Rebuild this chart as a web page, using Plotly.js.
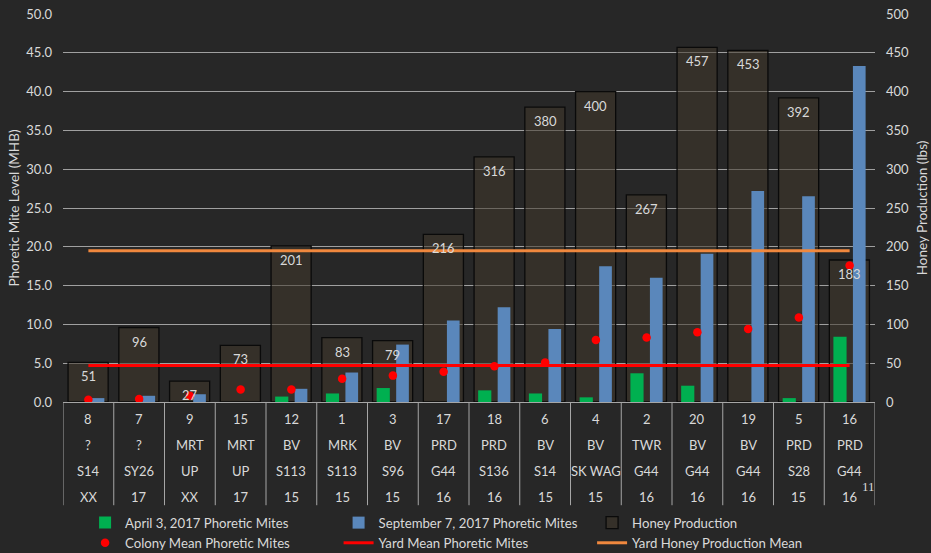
<!DOCTYPE html>
<html>
<head>
<meta charset="utf-8">
<script src="https://cdn.plot.ly/plotly-3.0.1.min.js"></script>
<style>
html,body{margin:0;padding:0;background:#272727;}
#chart{width:931px;height:553px;}
</style>
</head>
<body>
<div id="chart"></div>
<script>
// ---- data ----
var colonyIds   = ['8','7','9','15','12','1','3','17','18','6','4','2','20','19','5','16'];
var yards       = ['?','?','MRT','MRT','BV','MRK','BV','PRD','PRD','BV','BV','TWR','BV','BV','PRD','PRD'];
var stocks      = ['S14','SY26','UP','UP','S113','S113','S96','G44','S136','S14','SK WAG','G44','G44','G44','S28','G44'];
var years       = ['XX','17','XX','17','15','15','15','16','16','15','15','16','16','16','15','16'];
var aprilMites  = [0, 0, 0, 0, 0.7, 1.1, 1.8, 0, 1.5, 1.1, 0.6, 3.7, 2.1, 0, 0.5, 8.4];
var septMites   = [0.5, 0.8, 1.0, 0, 1.7, 3.8, 7.4, 10.5, 12.2, 9.4, 17.5, 16.0, 19.1, 27.2, 26.5, 43.3];
var colonyMean  = [0.3, 0.4, 0.8, 1.6, 1.6, 3.0, 3.4, 3.9, 4.6, 5.1, 8.0, 8.3, 9.0, 9.4, 10.9, 17.6];
var honey       = [51, 96, 27, 73, 201, 83, 79, 216, 316, 380, 400, 267, 457, 453, 392, 183];
var yardMeanMites = 4.7;
var yardMeanHoney = 195;
var miteTicks   = [0,5,10,15,20,25,30,35,40,45,50];
var honeyTicks  = [0,50,100,150,200,250,300,350,400,450,500];

var FONT = 'Lato, "Open Sans", sans-serif';
var TXT = '#d9d9d9';
var first = colonyIds[0], last = colonyIds[colonyIds.length-1];

var traces = [
  {type:'bar', name:'Honey Production', x:colonyIds, y:honey, yaxis:'y',
   width:0.79, offset:-0.4,
   marker:{color:'rgba(66,57,44,0.55)', line:{color:'#0a0a0a', width:1.3}},
   legendrank:3, hoverinfo:'skip'},
  {type:'scatter', mode:'lines', name:'Yard Honey Production Mean', x:[first,last], y:[yardMeanHoney,yardMeanHoney], yaxis:'y3',
   line:{color:'#f0883e', width:3}, legendrank:6},
  {type:'bar', name:'April 3, 2017 Phoretic Mites', x:colonyIds, y:aprilMites, yaxis:'y2',
   width:0.26, offset:-0.32, marker:{color:'#00b050'}, legendrank:1},
  {type:'bar', name:'September 7, 2017 Phoretic Mites', x:colonyIds, y:septMites, yaxis:'y2',
   width:0.25, offset:0.065, marker:{color:'#5a87bb'}, legendrank:2},
  {type:'scatter', mode:'markers', name:'Colony Mean Phoretic Mites', x:colonyIds, y:colonyMean, yaxis:'y2',
   marker:{color:'#ff0000', size:8.5}, legendrank:4},
  {type:'scatter', mode:'lines', name:'Yard Mean Phoretic Mites', x:[first,last], y:[yardMeanMites,yardMeanMites], yaxis:'y2',
   line:{color:'#ff0000', width:3}, legendrank:5}
];

// table below x axis and honey labels
var annotations = [];
var rowShifts = [-17, -43, -69, -95];
var rows = [colonyIds, yards, stocks, years];
for (var i=0;i<colonyIds.length;i++){
  for (var r=0;r<rows.length;r++){
    annotations.push({x:i, y:0, xref:'x', yref:'paper', text:rows[r][i], showarrow:false,
      yanchor:'middle', xanchor:'center', yshift:rowShifts[r], font:{family:FONT, size:13, color:TXT}});
  }
  annotations.push({x:i, y:honey[i], xref:'x', yref:'y', text:String(honey[i]), showarrow:false,
    yanchor:'middle', xanchor:'center', yshift:-14, font:{family:FONT, size:13, color:TXT}});
}
annotations.push({x:0.9914, y:-0.219, xref:'paper', yref:'paper', text:'11', showarrow:false,
  xanchor:'center', yanchor:'middle',
  font:{family:'"Liberation Serif", "DejaVu Serif", serif', size:13, color:TXT}});

var shapes = [];
for (var j=0;j<=colonyIds.length;j++){
  shapes.push({type:'line', xref:'x', yref:'paper', x0:j-0.5, x1:j-0.5, y0:0, y1:-0.266,
    line:{color:'#a6a6a6', width:1}});
}

var layout = {
  width:931, height:553,
  margin:{l:63, r:56, t:14, b:151, autoexpand:false},
  paper_bgcolor:'#272727', plot_bgcolor:'rgba(0,0,0,0)',
  font:{family:FONT, size:13, color:TXT},
  barmode:'overlay',
  showlegend:true,
  legend:{orientation:'h', x:0.0272, xanchor:'left', y:-0.272, yanchor:'top',
    entrywidth:208.5, traceorder:'normal', font:{family:FONT, size:13.2, color:TXT},
    bgcolor:'rgba(0,0,0,0)', tracegroupgap:0},
  xaxis:{type:'category', range:[-0.5, colonyIds.length-0.5], showticklabels:false, ticks:'',
    showgrid:false, showline:true, linecolor:'#a6a6a6', linewidth:1, zeroline:false, fixedrange:true},
  yaxis:{side:'right', range:[0,500], tickvals:honeyTicks, ticktext:honeyTicks.map(String),
    showgrid:true, gridcolor:'#a0a0a0', gridwidth:1, zeroline:false, ticks:'', ticklabelstandoff:10,
    tickfont:{family:FONT, size:13, color:TXT},
    title:{text:'Honey Production (lbs)', standoff:9, font:{family:FONT, size:13.5, color:TXT}}},
  yaxis2:{side:'left', overlaying:'y', range:[0,50], tickvals:miteTicks, ticktext:miteTicks.map(function(v){return v.toFixed(1);}),
    showgrid:false, zeroline:false, ticks:'', ticklabelstandoff:10,
    tickfont:{family:FONT, size:13, color:TXT},
    title:{text:'Phoretic Mite Level (MHB)', standoff:3, font:{family:FONT, size:13.5, color:TXT}}},
  yaxis3:{overlaying:'y', range:[0,500], visible:false, showgrid:false, zeroline:false},
  annotations:annotations,
  shapes:shapes
};

Plotly.newPlot('chart', traces, layout, {displayModeBar:false, staticPlot:true});
</script>
</body>
</html>
